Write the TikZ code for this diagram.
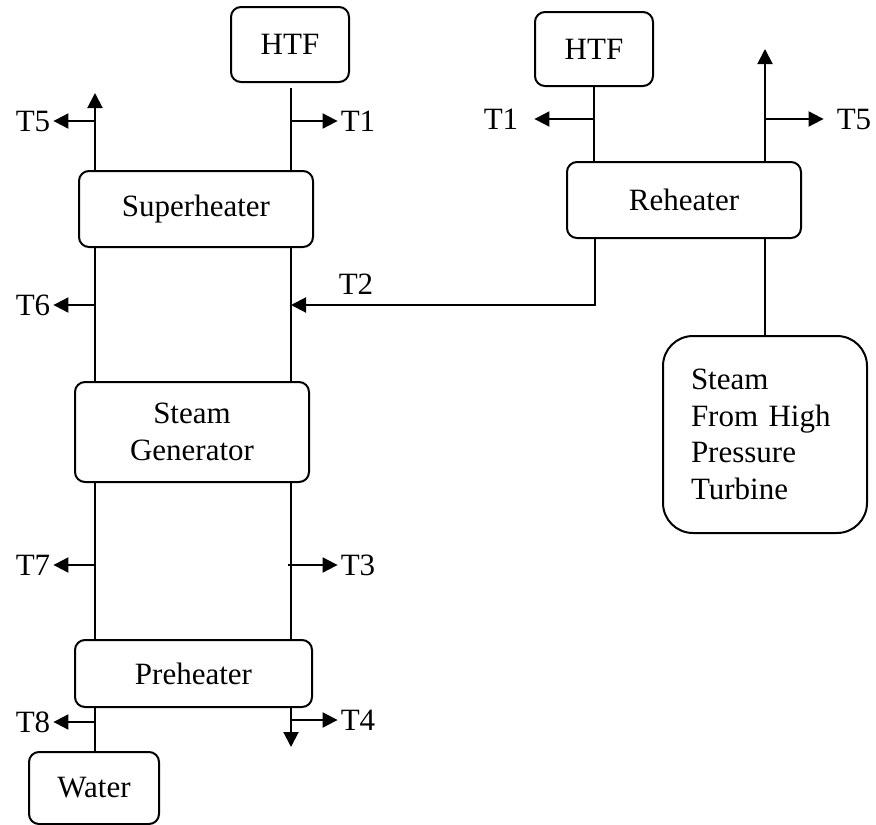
\documentclass[tikz,border=0pt]{standalone}
\usepackage{fontspec}
\setmainfont{Liberation Serif}
\usetikzlibrary{arrows.meta}

\tikzset{
  unit/.style={draw, line width=2pt, rounded corners=10pt, inner sep=0pt},
  pipe/.style={line width=2pt},
  flow/.style={line width=2pt, -{Triangle[length=15pt,width=15pt]}},
  temp/.style={inner sep=3pt},
}

\begin{document}
\begin{tikzpicture}[x=1pt, y=-1pt, font=\fontsize{31}{36.7}\selectfont]

    \useasboundingbox (0,0) rectangle (876,825);

    % column lines
    \coordinate (lx) at (95,0);
    \coordinate (rx) at (291,0);
    \coordinate (rh) at (595,0);
    \coordinate (sx) at (765,0);

    % main column
    \node[unit, minimum width=118, minimum height=75] (htfA) at (290,44.5) {HTF};
    \node[unit, minimum width=234, minimum height=76] (sup) at (196,209) {Superheater};
    \node[unit, minimum width=234, minimum height=100, align=center] (gen) at (192,432) {Steam\\Generator};
    \node[unit, minimum width=237, minimum height=67] (pre) at (193.5,673.5) {Preheater};
    \node[unit, minimum width=130, minimum height=72] (water) at (94,788) {Water};

    % reheater side
    \node[unit, minimum width=118, minimum height=74] (htfB) at (594,49) {HTF};
    \node[unit, minimum width=234, minimum height=76] (reh) at (684,200) {Reheater};
    \node[unit, rounded corners=30pt, minimum width=204, minimum height=197, text width=148, align=left] (steam) at (765,434.5) {Steam\\From High\\Pressure\\Turbine};

    % temperatures
    \node[temp] (t5a) at (33,121) {T5};
    \node[temp] (t1a) at (358,121) {T1};
    \node[temp] (t6) at (33,305) {T6};
    \node[temp] (t2) at (356,284) {T2};
    \node[temp] (t7) at (33,565) {T7};
    \node[temp] (t3) at (358,565) {T3};
    \node[temp] (t8) at (33,722) {T8};
    \node[temp] (t4) at (358,720) {T4};
    \node[temp] (t1b) at (501,119) {T1};
    \node[temp] (t5b) at (854,119) {T5};

    \coordinate (up5a) at (95,93);
    \coordinate (up5b) at (765,49);
    \coordinate (dn4) at (291,747);

    % water / steam side
    \draw[flow] (sup.north -| lx) -- (up5a);
    \draw[pipe] (sup.south -| lx) -- (gen.north -| lx);
    \draw[pipe] (gen.south -| lx) -- (pre.north -| lx);
    \draw[pipe] (pre.south -| lx) -- (water.north -| lx);

    % HTF side
    \draw[pipe, shorten <=5pt] (htfA.south -| rx) -- (sup.north -| rx);
    \draw[pipe] (sup.south -| rx) -- (gen.north -| rx);
    \draw[pipe] (gen.south -| rx) -- (pre.north -| rx);
    \draw[flow] (pre.south -| rx) -- (dn4);

    % taps
    \draw[flow] (lx |- t5a) -- (t5a.east);
    \draw[flow] (rx |- t1a) -- (t1a.west);
    \draw[flow] (lx |- t6) -- (t6.east);
    \draw[flow] (lx |- t7) -- (t7.east);
    \draw[flow] ([xshift=-3pt]rx |- t3) -- (t3.west);
    \draw[flow] (lx |- t8) -- (t8.east);
    \draw[flow] (rx |- t4) -- (t4.west);

    % reheater
    \draw[pipe] (htfB.south) -- (reh.north -| htfB.south);
    \draw[flow] (htfB.south |- t1b) -- ([xshift=13pt]t1b.east);
    \draw[flow] (reh.north -| sx) -- (up5b);
    \draw[flow] (sx |- t5b) -- ([xshift=-10pt]t5b.west);
    \draw[pipe] (reh.south -| sx) -- (steam.north);
    \draw[flow] (reh.south -| rh) |- (rx |- t6);

\end{tikzpicture}
\end{document}
